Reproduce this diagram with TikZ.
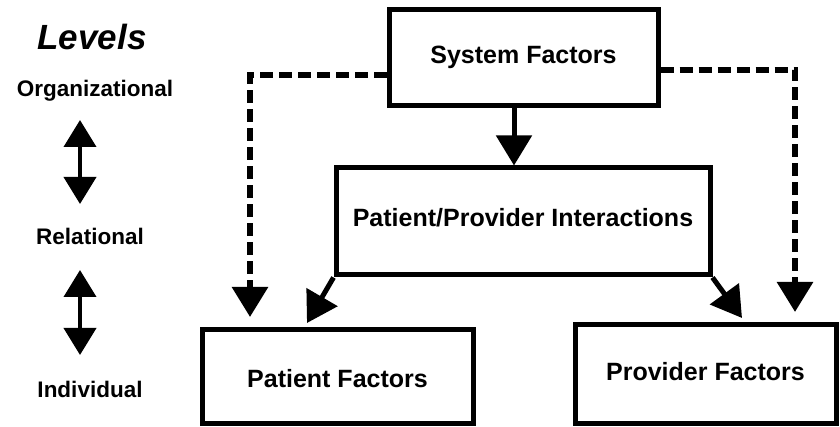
\documentclass[tikz,border=0pt]{standalone}
\usepackage{fontspec}
\setmainfont{Liberation Sans}
\usetikzlibrary{arrows.meta}
\begin{document}
\begin{tikzpicture}[x=1pt,y=-1pt,
  box/.style={draw=black,line width=5pt,rectangle,inner sep=0pt,
    font=\fontsize{25}{30}\selectfont\bfseries,text height=25pt},
  lvl/.style={font=\fontsize{22.5}{27}\selectfont\bfseries,anchor=base},
  solidarrow/.style={line width=5pt,-{Triangle[length=30pt,width=35pt]}},
  dasharrow/.style={line width=6pt,dash pattern=on 13pt off 6pt,-{Triangle[length=30pt,width=35pt]}},
  dblarrow/.style={line width=4pt,{Triangle[length=27pt,width=32pt]}-{Triangle[length=27pt,width=32pt]}}]
\useasboundingbox (0,0) rectangle (840,427);
% levels column
\node[anchor=base,font=\fontsize{35}{40}\selectfont\bfseries\itshape] (lev) at (92,50) {Levels};
\node[lvl] (org) at (95,97) {Organizational};
\node[lvl] (rel) at (90,245) {Relational};
\node[lvl] (ind) at (90,397) {Individual};
\coordinate (a1t) at (80,120);
\coordinate (a1b) at (80,204);
\coordinate (a2t) at (80,270);
\coordinate (a2b) at (80,355);
\draw[dblarrow] (a1t) -- (a1b);
\draw[dblarrow] (a2t) -- (a2b);
% boxes
\node[box,minimum width=269pt,minimum height=96pt,text depth=13pt] (sys) at (523.5,58) {System Factors};
\node[box,minimum width=374pt,minimum height=107pt,text depth=14pt] (inter) at (523,221.5) {Patient/Provider Interactions};
\node[box,minimum width=271pt,minimum height=93pt,text depth=4pt] (pat) at (337.5,376.5) {Patient Factors};
\node[box,minimum width=261pt,minimum height=98pt,text depth=13pt] (prov) at (705.5,374) {Provider Factors};
% connectors
\draw[solidarrow] (sys.south -| 514,0) -- (inter.north -| 514,0);
\coordinate (ptip) at (307,323);
\coordinate (rtip) at (742,318);
\draw[solidarrow] (inter.south west) -- (ptip);
\draw[solidarrow] (inter.south east) -- (rtip);
\coordinate (ldash) at (250,317);
\coordinate (rdash) at (795,312);
\draw[dasharrow] ([yshift=-17pt]sys.west) -| (ldash);
\draw[dasharrow] ([yshift=-12pt]sys.east) -| (rdash);
\end{tikzpicture}
\end{document}
